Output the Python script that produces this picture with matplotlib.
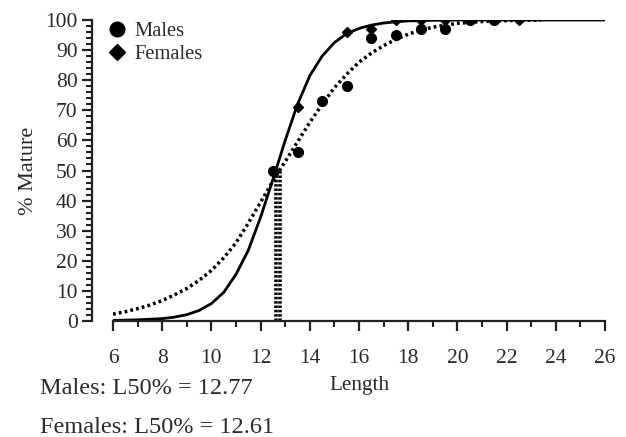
import matplotlib
matplotlib.use("Agg")
import matplotlib.pyplot as plt
from matplotlib.ticker import MultipleLocator

# observed proportions mature
male_len = [12.5, 13.5, 14.5, 15.5, 16.5, 17.5, 18.5, 19.5, 20.5, 21.5]
male_pct = [50, 56, 73, 78, 94, 95, 97, 97, 100, 100]
female_len = [12.5, 13.5, 15.5, 16.5, 17.5, 18.5, 19.5, 20.5, 21.5, 22.5]
female_pct = [50, 71, 96, 97, 100, 100, 100, 100, 100, 100]

# fitted curves
male_curve_x = [6, 6.5, 7, 7.5, 8, 8.5, 9, 9.5, 10, 10.5, 11, 11.5, 12, 12.5, 13,
                13.5, 14, 14.5, 15, 15.5, 16, 16.5, 17, 17.5, 18, 18.5, 19, 19.5,
                20, 21, 22, 23.4]
male_curve_y = [2.3, 3.1, 4.1, 5.3, 6.8, 8.7, 10.8, 13.5, 16.8, 21.0, 26.0, 32.5,
                39.5, 46.5, 53, 59.5, 66, 72, 77.5, 82, 86, 89, 91.5, 93.6, 95.3,
                96.6, 97.6, 98.3, 98.9, 99.5, 99.8, 100]
female_curve_x = [6, 6.5, 7, 7.5, 8, 8.5, 9, 9.5, 10, 10.5, 11, 11.5, 12, 12.5, 13,
                  13.5, 14, 14.5, 15, 15.5, 16, 16.5, 17, 17.5, 18, 19, 20, 26]
female_curve_y = [0.2, 0.3, 0.4, 0.6, 0.8, 1.3, 2.1, 3.5, 5.8, 9.5, 15.5, 23.5,
                  34.5, 47, 60, 72, 81.5, 88, 92.5, 95.5, 97.2, 98.3, 99, 99.4,
                  99.7, 99.9, 100, 100]

l50_male = 12.77
l50_female = 12.61

plt.rcParams['font.family'] = ['Liberation Serif', 'DejaVu Serif']
txt = '#2a2a2a'

fig = plt.figure(figsize=(6.26, 4.37), dpi=100)
ax = fig.add_axes([0.1805, 0.2654, 0.786, 0.6888])

ax.plot(female_curve_x, female_curve_y, color='black', lw=2.0, solid_capstyle='butt')
ax.plot(male_curve_x, male_curve_y, color='black', lw=2.5, linestyle=(0, (0.8, 0.9)))

# L50 markers
ax.plot([l50_female, l50_female], [0, 50], color='black', lw=2.6, linestyle=(0, (0.7, 0.5)))
ax.plot([l50_male, l50_male], [0, 50], color='black', lw=2.6, linestyle=(0, (0.7, 0.5)))

ax.plot(male_len, male_pct, 'o', color='black', ms=7, linestyle='none')
ax.plot(female_len, female_pct, 'D', color='black', ms=5.5, linestyle='none')

# legend only with markers
hm, = ax.plot([], [], 'o', color='black', ms=10.5, linestyle='none')
hf, = ax.plot([], [], 'D', color='black', ms=8.5, linestyle='none')
ax.legend([hm, hf], ['Males', 'Females'], loc='upper left', frameon=False,
          fontsize=14.8, handletextpad=0.25, labelspacing=0.15, handlelength=1.2,
          bbox_to_anchor=(-0.055, 1.055), labelcolor=txt)

ax.set_xlim(6, 26)
ax.set_ylim(0, 100)
ax.spines['top'].set_visible(False)
ax.spines['right'].set_visible(False)
ax.spines['left'].set_position(('outward', 15))
ax.spines['left'].set_bounds(0, 100)
ax.spines['bottom'].set_bounds(6, 26)
for s in ['left', 'bottom']:
    ax.spines[s].set_linewidth(1.6)
    ax.spines[s].set_color('#222222')

ax.xaxis.set_major_locator(MultipleLocator(2))
ax.xaxis.set_minor_locator(MultipleLocator(1))
ax.yaxis.set_major_locator(MultipleLocator(10))
ax.yaxis.set_minor_locator(MultipleLocator(2))
ax.tick_params(which='major', direction='out', length=7, width=1.6, color='#222222',
               labelsize=15.5, labelcolor=txt)
ax.tick_params(which='minor', direction='out', length=4, width=1.5, color='#222222')
ax.tick_params(axis='x', which='major', pad=13)

ax.set_xlabel('Length', fontsize=15.3, color=txt, labelpad=6)
ax.set_ylabel('% Mature', fontsize=16, color=txt, labelpad=5)

fig.text(0.064, 0.112, f'Males: L50% = {l50_male}', fontsize=17.5, color=txt, va='center')
fig.text(0.064, 0.022, f'Females: L50% = {l50_female}', fontsize=17.5, color=txt, va='center')

fig.savefig('out.png', dpi=100)
